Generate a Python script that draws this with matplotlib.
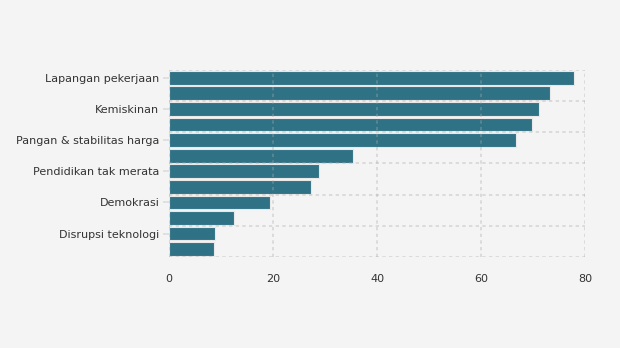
import matplotlib
matplotlib.use("Agg")
import matplotlib.pyplot as plt
import numpy as np

# data (top to bottom)
categories = ["Lapangan pekerjaan", "", "Kemiskinan", "", "Pangan & stabilitas harga", "",
              "Pendidikan tak merata", "", "Demokrasi", "", "Disrupsi teknologi", ""]
values = [77.9, 73.3, 71.2, 69.8, 66.7, 35.4, 28.8, 27.3, 19.4, 12.5, 8.8, 8.6]
x_ticks = [0, 20, 40, 60, 80]

bg = "#f4f4f4"
bar_color = "#2f7285"
grid_color = "#aaaaaa"
text_color = "#333333"

fig = plt.figure(figsize=(6.2, 3.48), dpi=100, facecolor=bg)
ax = fig.add_axes([0.2726, 0.2615, 0.6710, 0.5375], facecolor=bg)

y = np.arange(len(categories))
ax.barh(y, values, height=0.88, color=bar_color, edgecolor="#e8e8e8", linewidth=0.8, zorder=3)

ax.set_ylim(len(categories) - 0.5, -0.5)
ax.set_xlim(0, 80)

# labels only on every other category, grid between pairs
ax.set_yticks(y[::2])
ax.set_yticklabels([categories[i] for i in y[::2]])
ax.set_xticks(x_ticks)

for s in ax.spines.values():
    s.set_visible(False)

# dotted grid drawn over the bars, semi transparent
for xv in x_ticks:
    ax.axvline(xv, color=grid_color, alpha=0.4, linestyle=(0, (2, 2)), linewidth=1.2, zorder=4)
for yv in np.arange(-0.5, len(categories), 2):
    ax.axhline(yv, color=grid_color, alpha=0.4, linestyle=(0, (2, 2)), linewidth=1.2, zorder=4)

ax.tick_params(axis="y", length=4, color="#dddddd", width=1.2,
               labelsize=8, labelcolor=text_color, pad=3)
ax.tick_params(axis="x", length=0, labelsize=8, labelcolor=text_color, pad=12)

fig.savefig("out.png", dpi=100, facecolor=bg)
